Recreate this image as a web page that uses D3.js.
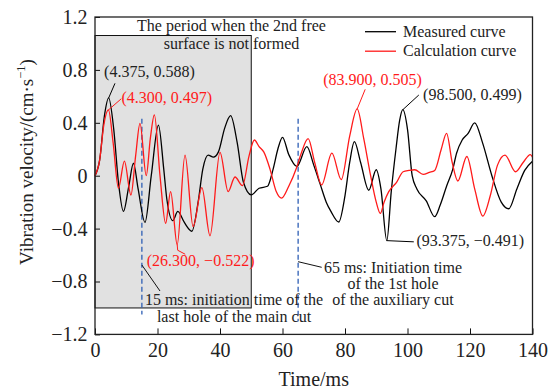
<!DOCTYPE html>
<html>
<head>
<meta charset="utf-8">
<script src="https://cdn.jsdelivr.net/npm/d3@7/dist/d3.min.js"></script>
<style>
  html, body { margin: 0; padding: 0; background: #fff; }
  svg { display: block; }
  svg text { font-family: "Liberation Serif", "Times New Roman", "DejaVu Serif", serif; }
</style>
</head>
<body>
<svg id="chart" width="555" height="392"></svg>
<script>
// Time axis (ms) and vibration velocity (cm/s) of the measured curve
const measuredTime = [0, 1.5, 3, 4.375, 6, 7.5, 9.1, 10.8, 12.3, 13.8, 16, 18, 20.3, 22, 23, 24.9, 26.5, 28.5, 31, 33, 34.5, 36.2, 37.9, 39.5, 41.5, 43.4, 45.5, 47.5, 50, 52.5, 55.2, 57, 58.5, 60, 62, 64.6, 67.8, 70, 72, 74, 75.5, 78, 80, 81.5, 83, 85, 87.6, 90, 91.5, 93.375, 94.8, 96.3, 97.5, 98.5, 100, 101.5, 103, 106, 108.7, 110.5, 112.5, 114.5, 115.7, 117.5, 119.4, 121.5, 124, 127, 130, 132.4, 135, 137.5, 140];
const measuredVel = [0, 0.12, 0.45, 0.588, 0.35, -0.05, -0.27, -0.08, 0.094, -0.1, -0.353, 0.0, 0.383, 0.05, -0.18, -0.34, -0.27, -0.35, -0.42, -0.2, 0.05, 0.156, 0.14, 0.18, 0.36, 0.454, 0.25, -0.05, -0.145, -0.095, -0.08, 0.05, 0.2, 0.29, 0.16, 0.07, 0.22, 0.08, -0.06, -0.2, -0.27, -0.35, -0.15, 0.1, 0.257, 0.1, -0.11, 0.045, -0.1, -0.491, -0.12, 0.2, 0.42, 0.499, 0.35, 0.0, -0.1, -0.19, -0.31, -0.22, -0.08, 0.05, 0.17, 0.27, 0.32, 0.40, 0.25, 0.0, -0.2, -0.25, -0.1, 0.04, 0.11];

// Calculated curve
const calcTime = [0, 1.5, 2.8, 4.3, 5.8, 7.5, 9.4, 11.5, 13, 14.4, 16.4, 17.7, 19, 20.8, 22.6, 24.2, 26.3, 28.8, 31.4, 34.2, 36.8, 40, 42.6, 44.8, 47.2, 49.3, 51, 52.5, 54, 56, 58, 59.7, 62, 64.5, 66, 68.2, 70.3, 72.5, 75.8, 78.8, 81.5, 83.9, 86, 88.2, 90, 91.3, 92.5, 94, 96.5, 98.6, 100.5, 102.3, 105, 107, 108.7, 110.8, 112.5, 114.3, 116.1, 119, 121.5, 124.1, 126.5, 128.8, 131.2, 134.6, 137, 139.3, 140];
const calcVel = [0, 0.12, 0.38, 0.497, 0.25, -0.095, 0.11, -0.146, 0.15, 0.396, 0.0, 0.28, 0.46, 0.0, -0.36, -0.12, -0.522, 0.156, -0.385, -0.09, -0.454, 0.177, -0.12, -0.01, -0.075, 0.15, 0.27, 0.22, 0.18, 0.05, -0.12, -0.17, -0.08, 0.06, 0.17, 0.28, 0.1, -0.07, 0.17, -0.03, 0.3, 0.505, 0.28, 0.0, -0.2, -0.285, -0.2, -0.12, -0.05, 0.03, 0.04, 0.045, 0.01, 0.025, 0.04, 0.2, 0.32, 0.1, -0.04, 0.145, -0.1, -0.305, -0.15, 0.08, 0.156, 0.03, 0.1, 0.16, 0.14];

const xTicks = [0, 20, 40, 60, 80, 100, 120, 140];
const xTickLabels = ["0", "20", "40", "60", "80", "100", "120", "140"];
const yTicks = [-1.2, -0.8, -0.4, 0, 0.4, 0.8, 1.2];
const yTickLabels = ["\u22121.2", "\u22120.8", "\u22120.4", "0", "0.4", "0.8", "1.2"];

const seriesNames = ["Measured curve", "Calculation curve"];
const seriesColors = ["#000000", "#ff1a1a"];

// Shaded interval [start, end] in ms and its vertical extent
const shadeTime = [0, 50];
const shadeVel = [-1.0, 1.06];
const shadeText = ["The period when the 2nd free", "surface is not formed"];

// Event markers: time (ms) and vertical span
const eventTime = [15, 65];
const eventTop = [0.43, 0.43];
const eventBottom = [-1.05, -1.10];

// Extremum labels: [time, velocity, series index]
const peakTime = [4.375, 4.3, 83.9, 98.5, 26.3, 93.375];
const peakVel = [0.588, 0.497, 0.505, 0.499, -0.522, -0.491];
const peakSeries = [0, 1, 1, 0, 1, 0];

const SERIF = "Liberation Serif, Times New Roman, DejaVu Serif, serif";
const fmt = v => v.toFixed(3).replace("-", "\u2212");

const svg = d3.select("#chart");
const margin = { left: 95, right: 22.5, top: 17, bottom: 57.6 };
const W = 555, H = 392;
const x = d3.scaleLinear().domain([0, 140]).range([margin.left, W - margin.right]);
const y = d3.scaleLinear().domain([-1.2, 1.2]).range([H - margin.bottom, margin.top]);

// shaded period
svg.append("rect")
  .attr("x", x(shadeTime[0])).attr("y", y(shadeVel[1]))
  .attr("width", x(shadeTime[1]) - x(shadeTime[0]))
  .attr("height", y(shadeVel[0]) - y(shadeVel[1]))
  .attr("fill", "#e1e1e1").attr("stroke", "#111").attr("stroke-width", 1);

// axes
const xAxis = d3.axisBottom(x).tickValues(xTicks)
  .tickFormat((d, i) => xTickLabels[i]).tickSizeInner(-6).tickSizeOuter(0).tickPadding(8);
const yAxis = d3.axisLeft(y).tickValues(yTicks)
  .tickFormat((d, i) => yTickLabels[i]).tickSizeInner(-5).tickSizeOuter(0).tickPadding(7.5);

const gx = svg.append("g").attr("transform", `translate(0,${y(-1.2)})`).call(xAxis);
const gy = svg.append("g").attr("transform", `translate(${x(0)},0)`).call(yAxis);
[gx, gy].forEach(g => {
  g.attr("font-family", SERIF).attr("font-size", 20);
  g.select(".domain").remove();
  g.selectAll("line").attr("stroke", "#111").attr("stroke-width", 1);
  g.selectAll("text").attr("fill", "#222");
});

// event dashed lines
eventTime.forEach((t, i) => {
  svg.append("line")
    .attr("x1", x(t)).attr("x2", x(t))
    .attr("y1", y(eventTop[i])).attr("y2", y(eventBottom[i]))
    .attr("stroke", "#2f5fb5").attr("stroke-width", 1.3).attr("stroke-dasharray", "5,3");
});

// curves
const line = d3.line().curve(d3.curveMonotoneX).x(d => x(d[0])).y(d => y(d[1]));
const measured = d3.zip(measuredTime, measuredVel);
const calc = d3.zip(calcTime, calcVel);
svg.append("path").datum(measured).attr("d", line)
  .attr("fill", "none").attr("stroke", seriesColors[0]).attr("stroke-width", 1.3);
svg.append("path").datum(calc).attr("d", line)
  .attr("fill", "none").attr("stroke", seriesColors[1]).attr("stroke-width", 1.3);

// plot frame
svg.append("rect")
  .attr("x", x(0)).attr("y", y(1.2))
  .attr("width", x(140) - x(0)).attr("height", y(-1.2) - y(1.2))
  .attr("fill", "none").attr("stroke", "#222").attr("stroke-width", 1.3);

const label = (sel) => sel.attr("font-family", SERIF).attr("font-size", 16).attr("fill", "#222");

// text in shaded period
const midShade = 231.5;
shadeText.forEach((s, i) => {
  svg.append("text").call(label).attr("x", midShade).attr("y", 30.7 + i * 18.6)
    .attr("text-anchor", "middle").text(s);
});

// legend
seriesNames.forEach((n, i) => {
  const ly = 31.7 + i * 19.5;
  svg.append("line").attr("x1", 365).attr("x2", 396).attr("y1", ly).attr("y2", ly)
    .attr("stroke", seriesColors[i]).attr("stroke-width", 1.3);
  svg.append("text").call(label).attr("x", 403).attr("y", ly + 5.2).text(n);
});

// extremum labels: leader offsets and text placement relative to the point
const leaders = [
  [[6.3, -14.6]],
  [[12.8, -11.2]],
  [[8, -19.6]],
  [[16, -14.7]],
  [[0.5, 5.5], [8, 9.5]],
  [[27, 1.2]]
];
const textPos = [
  [-4.6, -20.6, "start"],
  [13.0, -6.6, "start"],
  [15.3, -24, "middle"],
  [20.3, -9.7, "start"],
  [-30.4, 21.3, "start"],
  [29.6, 5.6, "start"]
];
peakTime.forEach((t, i) => {
  const px = x(t), py = y(peakVel[i]);
  const col = seriesColors[peakSeries[i]];
  const pts = [[px, py]].concat(leaders[i].map(o => [px + o[0], py + o[1]]));
  svg.append("path").attr("d", d3.line()(pts))
    .attr("fill", "none").attr("stroke", col).attr("stroke-width", 1);
  svg.append("text").call(label).attr("x", px + textPos[i][0]).attr("y", py + textPos[i][1])
    .attr("text-anchor", textPos[i][2])
    .attr("fill", peakSeries[i] === 0 ? "#222" : col)
    .text(`(${fmt(t)}, ${fmt(peakVel[i])})`);
});

// event notes
const note15 = ["15 ms: initiation time of the", "last hole of the main cut"];
const note65 = ["65 ms: Initiation time", "of the 1st hole", "of the auxiliary cut"];
svg.append("line").attr("x1", x(15)).attr("y1", 265).attr("x2", 160).attr("y2", 291)
  .attr("stroke", "#111").attr("stroke-width", 1);
note15.forEach((s, i) => {
  svg.append("text").call(label).attr("x", 234).attr("y", 305 + i * 16.5)
    .attr("text-anchor", "middle").text(s);
});
svg.append("line").attr("x1", x(65)).attr("y1", 261.7).attr("x2", 321.7).attr("y2", 267.3)
  .attr("stroke", "#111").attr("stroke-width", 1);
note65.forEach((s, i) => {
  svg.append("text").call(label).attr("x", 393).attr("y", 273.3 + i * 16)
    .attr("text-anchor", "middle").text(s);
});

// axis titles
svg.append("text").call(label).attr("font-size", 20)
  .attr("x", (x(0) + x(140)) / 2).attr("y", 386)
  .attr("text-anchor", "middle").text("Time/ms");
const yt = svg.append("text").call(label).attr("font-size", 19)
  .attr("transform", "translate(33,162) rotate(-90)")
  .attr("text-anchor", "middle");
yt.append("tspan").text("Vibration velocity/(cm\u00b7s");
yt.append("tspan").attr("font-size", 12.5).attr("dy", -8).text("\u22121");
yt.append("tspan").attr("dy", 8).text(")");
</script>
</body>
</html>
